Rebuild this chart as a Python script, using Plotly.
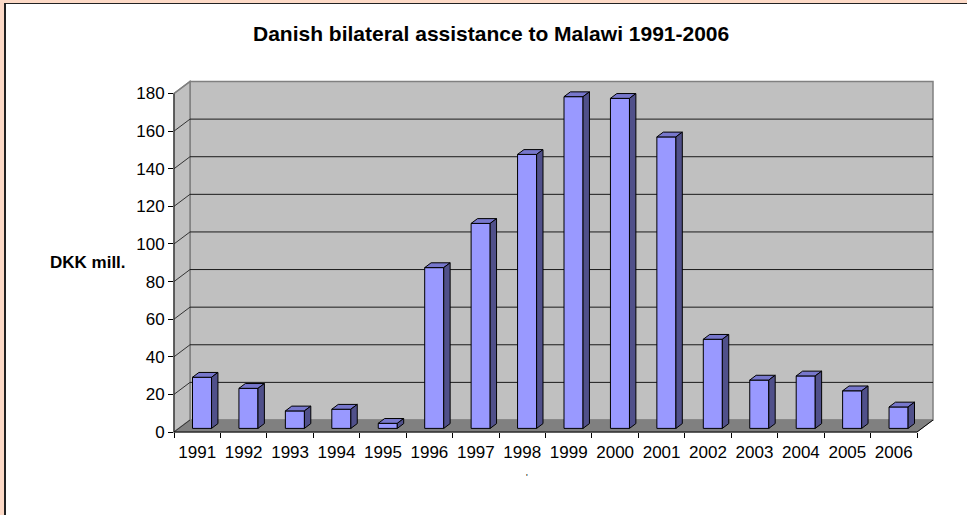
import plotly.graph_objects as go

# ---------------- data ----------------
years = ["1991", "1992", "1993", "1994", "1995", "1996", "1997", "1998",
         "1999", "2000", "2001", "2002", "2003", "2004", "2005", "2006"]
values = [27.2, 21.3, 9.3, 10.2, 2.7, 85.5, 109, 145.7,
          176.4, 175.5, 155, 47.4, 25.7, 27.9, 20, 11.4]
y_ticks = [0, 20, 40, 60, 80, 100, 120, 140, 160, 180]
title_text = "Danish bilateral assistance to Malawi 1991-2006"
y_title = "DKK mill."

# ---------------- geometry (pixels) ----------------
FIG_W, FIG_H = 967, 515
FRONT_L, FRONT_R = 174, 917      # front plane x extent
ZERO_PX, TOP_PX = 432, 93.5      # front plane y of 0 and of max tick
YMAX = y_ticks[-1]
N = len(years)
CW = (FRONT_R - FRONT_L) / N     # px per category
S = (ZERO_PX - TOP_PX) / YMAX    # px per unit
DEPTH_X, DEPTH_Y = 16, 12        # 3D depth offset in px
DX, DY = DEPTH_X / CW, DEPTH_Y / S
F0, F1 = 0.3, 0.7                # bar depth (fraction of floor depth)
BAR_W = 0.41                     # bar width in category units

FONT = "Liberation Sans, Arial, sans-serif"
BAR_FRONT = "#9999FF"
BAR_TOP = "#7777CC"
BAR_SIDE = "#50508A"
WALL = "#C0C0C0"
FLOOR = "#808080"
WALL_EDGE = "#808080"


def dom_x(p0, p1):
    return [p0 / FIG_W, p1 / FIG_W]


def dom_y(ptop, pbot):
    return [1 - pbot / FIG_H, 1 - ptop / FIG_H]


def dx_of(p):
    return (p - FRONT_L) / CW


def dy_of(p):
    return (ZERO_PX - p) / S


# subplot 2 (3D drawing area) pixel box
P2_L, P2_R, P2_T, P2_B = 150, 955, 60, 445

fig = go.Figure()

# invisible anchor trace so the front axes (ticks and labels) are drawn
fig.add_trace(go.Scatter(x=[0, N], y=[0, YMAX], mode="markers",
                         marker=dict(opacity=0, size=1), xaxis="x", yaxis="y",
                         showlegend=False, hoverinfo="skip"))

# ---- bars: front faces ----
xc = [i + 0.5 + F0 * DX for i in range(N)]
fig.add_trace(go.Bar(
    x=xc, y=values, base=[F0 * DY] * N, width=BAR_W,
    marker=dict(color=BAR_FRONT, line=dict(color="black", width=1)),
    xaxis="x2", yaxis="y2", showlegend=False, hoverinfo="skip"))

# ---- bars: top and side faces ----
tx, ty, sx, sy = [], [], [], []
for i, v in enumerate(values):
    xl = i + 0.5 - BAR_W / 2
    xr = i + 0.5 + BAR_W / 2
    tx += [xl + F0 * DX, xr + F0 * DX, xr + F1 * DX, xl + F1 * DX, xl + F0 * DX, None]
    ty += [v + F0 * DY, v + F0 * DY, v + F1 * DY, v + F1 * DY, v + F0 * DY, None]
    sx += [xr + F0 * DX, xr + F1 * DX, xr + F1 * DX, xr + F0 * DX, xr + F0 * DX, None]
    sy += [F0 * DY, F1 * DY, v + F1 * DY, v + F0 * DY, F0 * DY, None]

fig.add_trace(go.Scatter(x=tx, y=ty, mode="lines", fill="toself", fillcolor=BAR_TOP,
                         line=dict(color="black", width=1), xaxis="x2", yaxis="y2",
                         showlegend=False, hoverinfo="skip"))
fig.add_trace(go.Scatter(x=sx, y=sy, mode="lines", fill="toself", fillcolor=BAR_SIDE,
                         line=dict(color="black", width=1), xaxis="x2", yaxis="y2",
                         showlegend=False, hoverinfo="skip"))

# ---- walls / floor / grid as shapes ----
shapes = []


def poly(pts, fill, line, width=1):
    path = "M " + " L ".join(f"{x},{y}" for x, y in pts) + " Z"
    return dict(type="path", path=path, xref="x2", yref="y2", layer="below",
                fillcolor=fill, line=dict(color=line, width=width))


def seg(x0, y0, x1, y1, color, width=1):
    return dict(type="line", x0=x0, y0=y0, x1=x1, y1=y1, xref="x2", yref="y2",
                layer="below", line=dict(color=color, width=width))


# back wall
shapes.append(poly([(DX, DY), (N + DX, DY), (N + DX, YMAX + DY), (DX, YMAX + DY)], WALL, WALL_EDGE, 1.5))
# side wall
shapes.append(poly([(0, 0), (DX, DY), (DX, YMAX + DY), (0, YMAX)], WALL, WALL_EDGE, 1.5))
# floor
shapes.append(poly([(0, 0), (N, 0), (N + DX, DY), (DX, DY)], FLOOR, FLOOR, 1))
# gridlines on back wall and side wall
for t in y_ticks[1:-1]:
    shapes.append(seg(DX, t + DY, N + DX, t + DY, "#1a1a1a", 1))
for t in y_ticks[:-1]:
    shapes.append(seg(0, t, DX, t + DY, "#333333", 1))
shapes.append(seg(0, YMAX, DX, YMAX + DY, WALL_EDGE, 1.5))
# front axis lines and floor edge
shapes.append(seg(0, 0, 0, YMAX, "#222222", 1))
shapes.append(seg(0, 0, N, 0, "black", 1))
shapes.append(seg(N, 0, N + DX, DY, "black", 1))

# ---- outer frame (left and top peach strip with dark rule) ----
PEACH = "#FDDAC7"
shapes += [
    dict(type="rect", xref="paper", yref="paper", x0=0, x1=4 / FIG_W, y0=0, y1=1,
         fillcolor=PEACH, line=dict(width=0), layer="below"),
    dict(type="rect", xref="paper", yref="paper", x0=0, x1=1, y0=1 - 3 / FIG_H, y1=1,
         fillcolor=PEACH, line=dict(width=0), layer="below"),
    dict(type="line", xref="paper", yref="paper", x0=5 / FIG_W, x1=5 / FIG_W, y0=0, y1=1 - 3.5 / FIG_H,
         line=dict(color="#222222", width=2), layer="below"),
    dict(type="line", xref="paper", yref="paper", x0=4 / FIG_W, x1=1, y0=1 - 3.5 / FIG_H, y1=1 - 3.5 / FIG_H,
         line=dict(color="#222222", width=1), layer="below"),
]

annotations = [
    dict(text=title_text, xref="paper", yref="paper", x=491 / FIG_W, y=1 - 33 / FIG_H,
         xanchor="center", yanchor="middle", showarrow=False,
         font=dict(family=FONT, size=21, color="black", weight="bold")),
    dict(text=y_title, xref="paper", yref="paper", x=48 / FIG_W, y=1 - 262 / FIG_H,
         xanchor="left", yanchor="middle", showarrow=False,
         font=dict(family=FONT, size=17, color="black", weight="bold")),
    dict(text="'", xref="paper", yref="paper", x=527 / FIG_W, y=1 - 477 / FIG_H,
         xanchor="center", yanchor="middle", showarrow=False,
         font=dict(family=FONT, size=9, color="black")),
]

fig.update_layout(
    width=FIG_W, height=FIG_H,
    margin=dict(l=0, r=0, t=0, b=0, pad=0),
    template="none",
    paper_bgcolor="white", plot_bgcolor="rgba(0,0,0,0)",
    showlegend=False,
    shapes=shapes, annotations=annotations,
    font=dict(family=FONT, size=17, color="black"),
    xaxis=dict(domain=dom_x(FRONT_L, FRONT_R), range=[0, N], anchor="y",
               tickmode="array", tickvals=[i + 0.5 for i in range(N)], ticktext=years,
               ticks="outside", ticklen=5, tickcolor="rgba(0,0,0,0)",
               minor=dict(tickmode="array", tickvals=list(range(N + 1)), ticks="outside",
                          ticklen=5, tickcolor="black", tickwidth=1, showgrid=False),
               showline=False, showgrid=False, zeroline=False, fixedrange=True,
               tickfont=dict(family=FONT, size=17, color="black")),
    yaxis=dict(domain=dom_y(TOP_PX, ZERO_PX), range=[0, YMAX], anchor="x",
               tickmode="array", tickvals=y_ticks, ticktext=[str(t) for t in y_ticks],
               ticks="outside", ticklen=5, tickcolor="black", tickwidth=1,
               showline=False, showgrid=False, zeroline=False, fixedrange=True,
               tickfont=dict(family=FONT, size=17, color="black")),
    xaxis2=dict(domain=dom_x(P2_L, P2_R), range=[dx_of(P2_L), dx_of(P2_R)], anchor="y2",
                visible=False, fixedrange=True),
    yaxis2=dict(domain=dom_y(P2_T, P2_B), range=[dy_of(P2_B), dy_of(P2_T)], anchor="x2",
                visible=False, fixedrange=True),
)

fig.write_html("out.html", config={"displayModeBar": False},
               post_script="document.body.style.margin='0px';")
